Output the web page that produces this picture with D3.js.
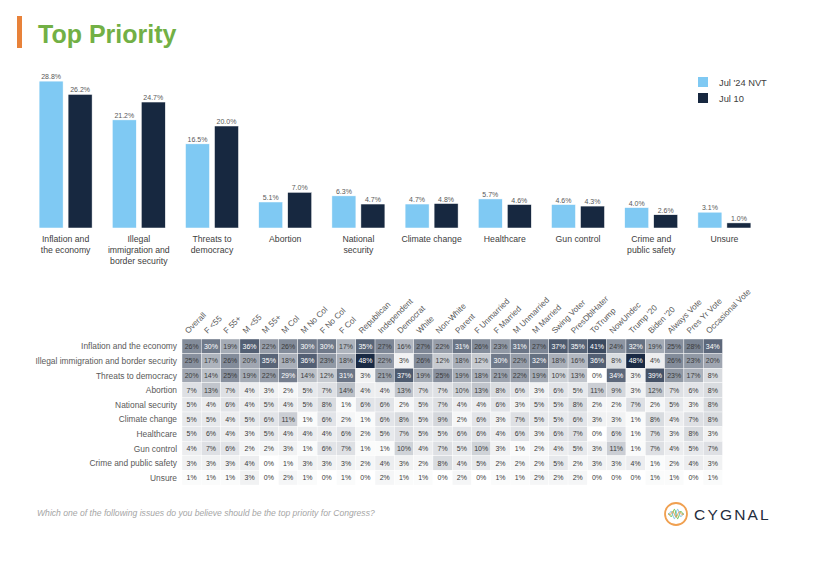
<!DOCTYPE html>
<html>
<head>
<meta charset="utf-8">
<script src="https://cdn.jsdelivr.net/npm/d3@7"></script>
<style>
  html, body { margin: 0; padding: 0; background: #ffffff; }
  svg { display: block; font-family: "Liberation Sans", Arial, sans-serif; }
</style>
</head>
<body>
<svg id="chart" width="823" height="576"></svg>
<script>
// ---------- DATA ----------
const categories = [
  "Inflation and the economy", "Illegal immigration and border security", "Threats to democracy",
  "Abortion", "National security", "Climate change", "Healthcare", "Gun control",
  "Crime and public safety", "Unsure"
];
const barLabels = [
  ["Inflation and", "the economy"],
  ["Illegal", "immigration and", "border security"],
  ["Threats to", "democracy"],
  ["Abortion"],
  ["National", "security"],
  ["Climate change"],
  ["Healthcare"],
  ["Gun control"],
  ["Crime and", "public safety"],
  ["Unsure"]
];
const seriesNames = ["Jul '24 NVT", "Jul 10"];
const julNVT = [28.8, 21.2, 16.5, 5.1, 6.3, 4.7, 5.7, 4.6, 4.0, 3.1];
const jul10  = [26.2, 24.7, 20.0, 7.0, 4.7, 4.8, 4.6, 4.3, 2.6, 1.0];

const columns = [
  "Overall", "F <55", "F 55+", "M <55", "M 55+", "M Col", "M No Col", "F No Col", "F Col",
  "Republican", "Independent", "Democrat", "White", "Non-White", "Parent", "F Unmarried",
  "F Married", "M Unmarried", "M Married", "Swing Voter", "PresDblHater", "ToTrump",
  "NowUndec", "Trump '20", "Biden '20", "Always Vote", "Pres Yr Vote", "Occasional Vote"
];
const rowInflation = [26,30,19,36,22,26,30,30,17,35,27,16,27,22,31,26,23,31,27,37,35,41,24,32,19,25,28,34];
const rowImmigration = [25,17,26,20,35,18,36,23,18,48,22,3,26,12,18,12,30,22,32,18,16,36,8,48,4,26,23,20];
const rowDemocracy = [20,14,25,19,22,29,14,12,31,3,21,37,19,25,19,18,21,22,19,10,13,0,34,3,39,23,17,8];
const rowAbortion = [7,13,7,4,3,2,5,7,14,4,4,13,7,7,10,13,8,6,3,6,5,11,9,3,12,7,6,8];
const rowNatSec = [5,4,6,4,5,4,5,8,1,6,6,2,5,7,4,4,6,3,5,5,8,2,2,7,2,5,3,8];
const rowClimate = [5,5,4,5,6,11,1,6,2,1,6,8,5,9,2,6,3,7,5,5,6,3,3,1,8,4,7,8];
const rowHealthcare = [5,6,4,3,5,4,4,4,6,2,5,7,5,5,6,6,4,6,3,6,7,0,6,1,7,3,8,3];
const rowGun = [4,7,6,2,2,3,1,6,7,1,1,10,4,7,5,10,3,1,2,4,5,3,11,1,7,4,5,7];
const rowCrime = [3,3,3,4,0,1,3,3,3,2,4,3,2,8,4,5,2,2,2,5,2,3,3,4,1,2,4,3];
const rowUnsure = [1,1,1,3,0,2,1,0,1,0,2,1,1,0,2,0,1,1,2,2,2,0,0,0,1,1,0,1];
const heatRows = [rowInflation, rowImmigration, rowDemocracy, rowAbortion, rowNatSec,
                  rowClimate, rowHealthcare, rowGun, rowCrime, rowUnsure];

const questionText = "Which one of the following issues do you believe should be the top priority for Congress?";

// ---------- SETUP ----------
const svg = d3.select("#chart");
const lightBlue = "#7fc9f3", navy = "#172840";

// Title
svg.append("rect").attr("x", 17).attr("y", 16).attr("width", 5).attr("height", 32).attr("fill", "#e8823a");
svg.append("text").attr("x", 38).attr("y", 43).text("Top Priority")
  .attr("font-size", 25).attr("font-weight", "bold").attr("fill", "#72b045");

// ---------- BAR CHART ----------
const x0 = d3.scaleBand().domain(categories).range([29, 761]);
const x1 = d3.scaleBand().domain(seriesNames).range([-26.5, 26.5]).paddingInner(5 / 29);
const y = d3.scaleLinear().domain([0, 30]).range([228, 75]);
const seriesVals = [julNVT, jul10];
const seriesCols = [lightBlue, navy];

const groups = svg.append("g").selectAll("g").data(categories).join("g")
  .attr("transform", d => `translate(${x0(d) + x0.bandwidth() / 2},0)`);

seriesNames.forEach((s, si) => {
  groups.append("rect")
    .attr("x", x1(s)).attr("width", x1.bandwidth())
    .attr("y", (d, i) => y(seriesVals[si][i]))
    .attr("height", (d, i) => y(0) - y(seriesVals[si][i]))
    .attr("fill", seriesCols[si]).attr("stroke", "#ffffff").attr("stroke-width", 0.5);
  groups.append("text")
    .attr("x", x1(s) + x1.bandwidth() / 2)
    .attr("y", (d, i) => y(seriesVals[si][i]) - 2)
    .attr("text-anchor", "middle").attr("font-size", 7).attr("fill", "#595959")
    .text((d, i) => seriesVals[si][i].toFixed(1) + "%");
});

groups.append("text")
  .attr("text-anchor", "middle").attr("font-size", 8.7).attr("fill", "#404040")
  .each(function (d, i) {
    d3.select(this).selectAll("tspan").data(barLabels[i]).join("tspan")
      .attr("x", 0).attr("y", (t, j) => 242 + j * 11).text(t => t);
  });

// Legend
seriesNames.forEach((s, i) => {
  svg.append("rect").attr("x", 698).attr("y", 77 + i * 16).attr("width", 10).attr("height", 10).attr("fill", seriesCols[i]);
  svg.append("text").attr("x", 719).attr("y", 85.5 + i * 16).attr("font-size", 9.3).attr("fill", "#404040").text(s);
});

// ---------- HEATMAP ----------
const hx = d3.scaleBand().domain(columns).range([182, 722.5]);
const hy = d3.scaleBand().domain(categories).range([339, 485]);
const color = d3.scaleLinear().domain([0, 48]).range(["#ffffff", "#1a2a44"]);

const cells = [];
heatRows.forEach((row, ri) => row.forEach((v, ci) => cells.push({ r: categories[ri], c: columns[ci], v })));

const hm = svg.append("g");
hm.selectAll("rect").data(cells).join("rect")
  .attr("x", d => hx(d.c)).attr("y", d => hy(d.r))
  .attr("width", hx.bandwidth()).attr("height", hy.bandwidth())
  .attr("fill", d => color(d.v)).attr("stroke", "#ffffff").attr("stroke-width", 0.4);
hm.selectAll("text.cell").data(cells).join("text").attr("class", "cell")
  .attr("x", d => hx(d.c) + hx.bandwidth() / 2)
  .attr("y", d => hy(d.r) + hy.bandwidth() / 2 + 2.5)
  .attr("text-anchor", "middle").attr("font-size", 7)
  .attr("fill", d => d.v >= 29 ? "#ffffff" : "#3a3a3a")
  .text(d => d.v + "%");

// Row labels
svg.append("g").selectAll("text").data(categories).join("text")
  .attr("x", 177).attr("y", d => hy(d) + hy.bandwidth() / 2 + 3)
  .attr("text-anchor", "end").attr("font-size", 8.4).attr("fill", "#595959").text(d => d);

// Column labels
svg.append("g").selectAll("text").data(columns).join("text")
  .attr("transform", d => `translate(${hx(d) + hx.bandwidth() / 2 - 3.5},334) rotate(-45)`)
  .attr("font-size", 8.2).attr("fill", "#595959").text(d => d);

// ---------- FOOTER ----------
svg.append("text").attr("x", 37).attr("y", 516).attr("font-size", 8.6)
  .attr("font-style", "italic").attr("fill", "#a6a6a6").text(questionText);

// Logo
const logo = svg.append("g").attr("transform", "translate(676,514)");
logo.append("circle").attr("r", 11).attr("fill", "none").attr("stroke", "#f0a050").attr("stroke-width", 1.8);
const wave = (amp, phase, col) => {
  const pts = d3.range(-8, 8.5, 0.5).map(t => [t, amp * Math.sin(t * 0.9 + phase) * Math.cos(t / 8 * Math.PI / 2)]);
  logo.append("path").attr("d", d3.line()(pts)).attr("fill", "none").attr("stroke", col).attr("stroke-width", 1);
};
wave(5, 0, "#6cbf4a");
wave(5, Math.PI, "#7ec3e6");
wave(3, 1.5, "#e8a050");
svg.append("text").attr("x", 694).attr("y", 520).attr("font-size", 15.5)
  .attr("letter-spacing", 2.2).attr("fill", "#1f2d3d").text("CYGNAL");
</script>
</body>
</html>
